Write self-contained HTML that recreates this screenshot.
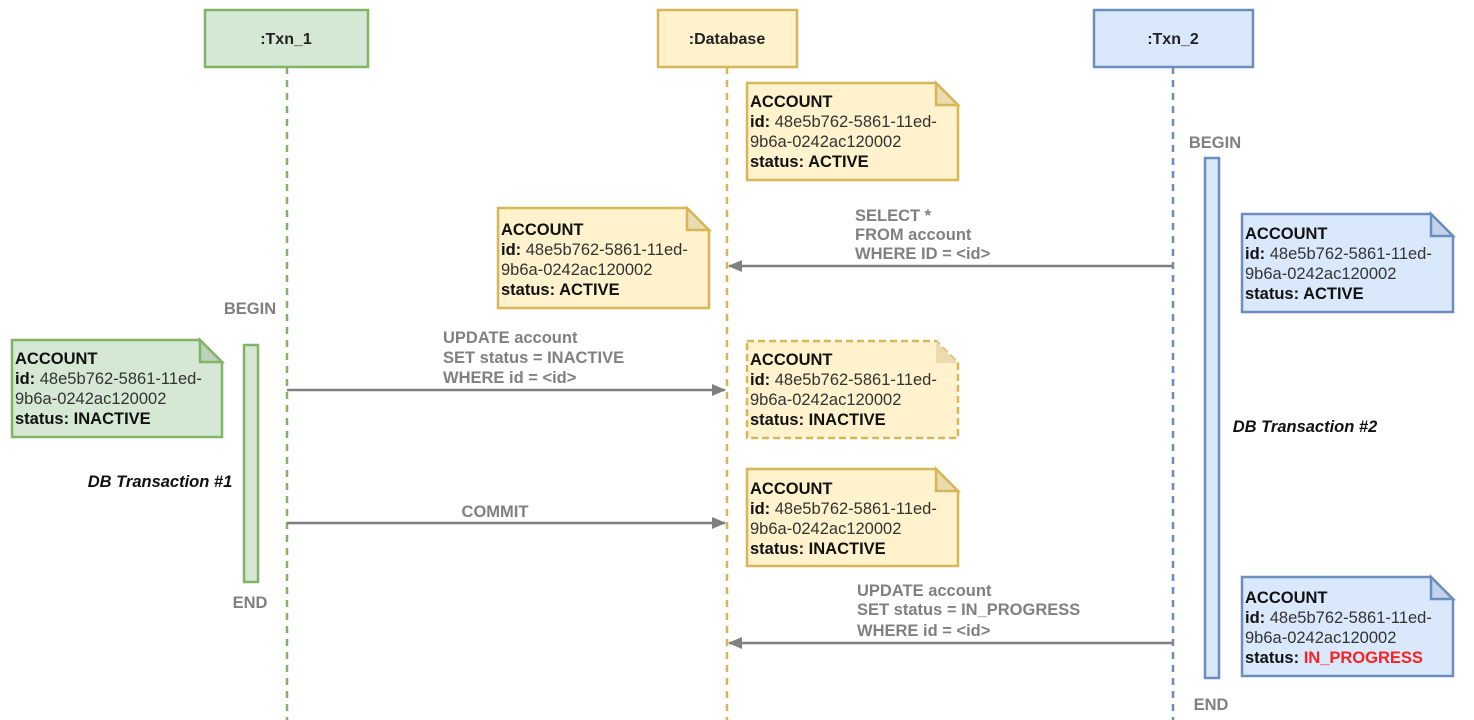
<!DOCTYPE html>
<html><head><meta charset="utf-8"><style>
html,body{margin:0;padding:0;background:#fff;}
svg{display:block;font-family:"Liberation Sans",Arial,sans-serif;}
.nt{font-size:16.5px;fill:#333;}
.b{font-weight:bold;fill:#111;}
.lbl{font-size:16.5px;font-weight:bold;fill:#808080;}
</style></head><body>
<svg width="1474" height="720" viewBox="0 0 1474 720" xmlns="http://www.w3.org/2000/svg">
<defs>
<marker id="ah" markerWidth="14" markerHeight="12" refX="13" refY="6" orient="auto" markerUnits="userSpaceOnUse">
<path d="M0,0 L14,6 L0,12 Z" fill="#808080"/>
</marker>
</defs>
<!-- lifelines -->
<line x1="287" y1="67" x2="287" y2="720" stroke="#82b366" stroke-width="2.5" stroke-dasharray="7,6"/>
<line x1="727" y1="67" x2="727" y2="720" stroke="#d6b656" stroke-width="2.5" stroke-dasharray="7,6"/>
<line x1="1173" y1="67" x2="1173" y2="720" stroke="#6c8ebf" stroke-width="2.5" stroke-dasharray="7,6"/>
<!-- headers -->
<rect x="205" y="10" width="163" height="57" fill="#d5e8d4" stroke="#82b366" stroke-width="2.5"/>
<text x="286" y="44" text-anchor="middle" font-size="16" font-weight="bold" fill="#222">:Txn_1</text>
<rect x="658" y="10" width="139" height="57" fill="#fff2cc" stroke="#d6b656" stroke-width="2.5"/>
<text x="727" y="44" text-anchor="middle" font-size="16" font-weight="bold" fill="#222">:Database</text>
<rect x="1094" y="10" width="159" height="57" fill="#dae8fc" stroke="#6c8ebf" stroke-width="2.5"/>
<text x="1173" y="44" text-anchor="middle" font-size="16" font-weight="bold" fill="#222">:Txn_2</text>
<!-- activation bars -->
<rect x="244" y="345" width="14" height="237" fill="#d5e8d4" stroke="#82b366" stroke-width="2.5"/>
<rect x="1205" y="158" width="14" height="520" fill="#dae8fc" stroke="#6c8ebf" stroke-width="2.5"/>
<text x="250" y="314" text-anchor="middle" class="lbl">BEGIN</text>
<text x="250" y="608" text-anchor="middle" class="lbl">END</text>
<text x="1215" y="148" text-anchor="middle" class="lbl">BEGIN</text>
<text x="1211" y="710" text-anchor="middle" class="lbl">END</text>
<text x="160" y="487" text-anchor="middle" font-size="16.5" font-weight="bold" font-style="italic" fill="#111">DB Transaction #1</text>
<text x="1305" y="432" text-anchor="middle" font-size="16.5" font-weight="bold" font-style="italic" fill="#111">DB Transaction #2</text>
<!-- arrows -->
<line x1="1173" y1="266" x2="729" y2="266" stroke="#808080" stroke-width="2.5" marker-end="url(#ah)"/>
<text class="lbl" font-size="14"><tspan x="855" y="221">SELECT *</tspan><tspan x="855" y="240">FROM account</tspan><tspan x="855" y="259">WHERE ID = &lt;id&gt;</tspan></text>
<line x1="287" y1="390" x2="725" y2="390" stroke="#808080" stroke-width="2.5" marker-end="url(#ah)"/>
<text class="lbl"><tspan x="443" y="343">UPDATE account</tspan><tspan x="443" y="363">SET status = INACTIVE</tspan><tspan x="443" y="383">WHERE id = &lt;id&gt;</tspan></text>
<line x1="287" y1="523" x2="725" y2="523" stroke="#808080" stroke-width="2.5" marker-end="url(#ah)"/>
<text x="495" y="517" text-anchor="middle" class="lbl">COMMIT</text>
<line x1="1173" y1="643" x2="729" y2="643" stroke="#808080" stroke-width="2.5" marker-end="url(#ah)"/>
<text class="lbl"><tspan x="857" y="596">UPDATE account</tspan><tspan x="857" y="615">SET status = IN_PROGRESS</tspan><tspan x="857" y="636">WHERE id = &lt;id&gt;</tspan></text>

<!-- DB1 -->
<path d="M747,83 H936 L958,105 V180 H747 Z" fill="#fff2cc" stroke="#d6b656" stroke-width="2.5"/>
<path d="M936,83 V105 H958 Z" fill="#eadbb0" stroke="#d6b656" stroke-width="2.5"/>
<text class="nt"><tspan x="750" y="107" class="b">ACCOUNT</tspan><tspan x="750" y="127"><tspan class="b">id:</tspan> 48e5b762-5861-11ed-</tspan><tspan x="750" y="147">9b6a-0242ac120002</tspan><tspan x="750" y="167" class="b">status: ACTIVE</tspan></text>
<!-- DB left -->
<path d="M498,208 H687 L709,230 V308 H498 Z" fill="#fff2cc" stroke="#d6b656" stroke-width="2.5"/>
<path d="M687,208 V230 H709 Z" fill="#eadbb0" stroke="#d6b656" stroke-width="2.5"/>
<text class="nt"><tspan x="501" y="235" class="b">ACCOUNT</tspan><tspan x="501" y="255"><tspan class="b">id:</tspan> 48e5b762-5861-11ed-</tspan><tspan x="501" y="275">9b6a-0242ac120002</tspan><tspan x="501" y="295" class="b">status: ACTIVE</tspan></text>
<!-- Blue1 -->
<path d="M1242,214 H1431 L1453,236 V312 H1242 Z" fill="#dae8fc" stroke="#6c8ebf" stroke-width="2.5"/>
<path d="M1431,214 V236 H1453 Z" fill="#c3d3ea" stroke="#6c8ebf" stroke-width="2.5"/>
<text class="nt"><tspan x="1245" y="239" class="b">ACCOUNT</tspan><tspan x="1245" y="259"><tspan class="b">id:</tspan> 48e5b762-5861-11ed-</tspan><tspan x="1245" y="279">9b6a-0242ac120002</tspan><tspan x="1245" y="299" class="b">status: ACTIVE</tspan></text>
<!-- Green -->
<path d="M12,340 H200 L222,362 V437 H12 Z" fill="#d5e8d4" stroke="#82b366" stroke-width="2.5"/>
<path d="M200,340 V362 H222 Z" fill="#bcd3bb" stroke="#82b366" stroke-width="2.5"/>
<text class="nt"><tspan x="15" y="364" class="b">ACCOUNT</tspan><tspan x="15" y="384"><tspan class="b">id:</tspan> 48e5b762-5861-11ed-</tspan><tspan x="15" y="404">9b6a-0242ac120002</tspan><tspan x="15" y="424" class="b">status: INACTIVE</tspan></text>
<!-- DB dashed -->
<path d="M747,341 H936 L958,363 V438 H747 Z" fill="#fff2cc" stroke="#d6b656" stroke-width="2.5" stroke-dasharray="7,4"/>
<path d="M936,341 V363 H958 Z" fill="#eadbb0" stroke="none"/>
<text class="nt"><tspan x="750" y="365" class="b">ACCOUNT</tspan><tspan x="750" y="385"><tspan class="b">id:</tspan> 48e5b762-5861-11ed-</tspan><tspan x="750" y="405">9b6a-0242ac120002</tspan><tspan x="750" y="425" class="b">status: INACTIVE</tspan></text>
<!-- DB3 -->
<path d="M747,469 H936 L958,491 V566 H747 Z" fill="#fff2cc" stroke="#d6b656" stroke-width="2.5"/>
<path d="M936,469 V491 H958 Z" fill="#eadbb0" stroke="#d6b656" stroke-width="2.5"/>
<text class="nt"><tspan x="750" y="494" class="b">ACCOUNT</tspan><tspan x="750" y="514"><tspan class="b">id:</tspan> 48e5b762-5861-11ed-</tspan><tspan x="750" y="534">9b6a-0242ac120002</tspan><tspan x="750" y="554" class="b">status: INACTIVE</tspan></text>
<!-- Blue2 -->
<path d="M1242,577 H1431 L1453,599 V676 H1242 Z" fill="#dae8fc" stroke="#6c8ebf" stroke-width="2.5"/>
<path d="M1431,577 V599 H1453 Z" fill="#c3d3ea" stroke="#6c8ebf" stroke-width="2.5"/>
<text class="nt"><tspan x="1245" y="603" class="b">ACCOUNT</tspan><tspan x="1245" y="623"><tspan class="b">id:</tspan> 48e5b762-5861-11ed-</tspan><tspan x="1245" y="643">9b6a-0242ac120002</tspan><tspan x="1245" y="663" class="b">status: <tspan fill="#ff2020">IN_PROGRESS</tspan></tspan></text>
</svg>
</body></html>
